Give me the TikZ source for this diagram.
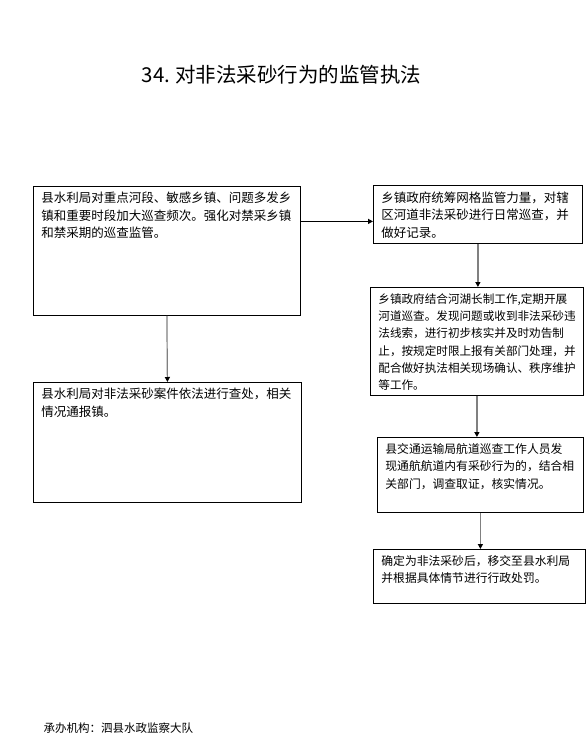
\documentclass[tikz,border=0pt]{standalone}
\usepackage{fontspec}
\setmainfont{Noto Sans CJK SC}
\usetikzlibrary{arrows.meta,positioning}
\newcommand{\steptext}[3]{\parbox[t][#2pt][t]{#1pt}{\raggedright #3}}

\begin{document}
\begin{tikzpicture}[
  x=1pt,y=-1pt,
  stepbox/.style={draw,line width=0.8pt,anchor=north west,inner xsep=8pt,inner ysep=6pt,
                  align=left,font=\fontsize{12.5}{17.5}\selectfont},
  arr/.style={-{Triangle[length=5pt,width=5pt,color=black]},line width=1.2pt,draw=gray}
]
\useasboundingbox[fill=white] (0,0) rectangle (586,752);
\node (title) at (281.5,75) {\fontsize{20.5}{21}\selectfont 34.\ 对非法采砂行为的监管执法};
\node[stepbox] (b1) at (33,186) {\steptext{251}{117}{县水利局对重点河段、敏感乡镇、问题多发乡\\镇和重要时段加大巡查频次。强化对禁采乡镇\\和禁采期的巡查监管。}};
\node[stepbox] (b2) at (33,382) {\steptext{252}{108}{县水利局对非法采砂案件依法进行查处，相关\\情况通报镇。}};
\node[stepbox] (b3) at (373,185) {\steptext{193}{46}{乡镇政府统筹网格监管力量，对辖\\区河道非法采砂进行日常巡查，并\\做好记录。}};
\node[stepbox,font=\fontsize{11.6}{17.3}\selectfont] (b4) at (370,287) {\steptext{197}{96}{乡镇政府结合河湖长制工作,定期开展\\河道巡查。发现问题或收到非法采砂违\\法线索，进行初步核实并及时劝告制\\止，按规定时限上报有关部门处理，并\\配合做好执法相关现场确认、秩序维护\\等工作。}};
\node[stepbox,font=\fontsize{11.8}{17.5}\selectfont] (b5) at (377,437) {\steptext{190}{63}{县交通运输局航道巡查工作人员发\\现通航航道内有采砂行为的，结合相\\关部门，调查取证，核实情况。}};
\node[stepbox,font=\fontsize{11.8}{17.5}\selectfont] (b6) at (373,549) {\steptext{196}{42}{确定为非法采砂后，移交至县水利局\\并根据具体情节进行行政处罚。}};
\node[anchor=west,font=\fontsize{11.5}{12}\selectfont] (org) at (40,728) {承办机构：泗县水政监察大队};
% connectors
\coordinate (hy) at ([yshift=-7pt]b3.west);
\draw[arr,draw=black] (b1.east |- hy) -- (hy);
\draw[arr] (b1.south) -- (b2.north);
\draw[arr] (b3.south) -- (b3.south |- b4.north);
\draw[arr] (b4.south) -- (b4.south |- b5.north);
\draw[arr] (b5.south) -- (b5.south |- b6.north);
\end{tikzpicture}
\end{document}
